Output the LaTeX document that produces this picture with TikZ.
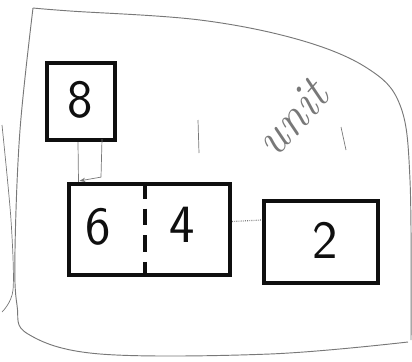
\documentclass[tikz,border=0pt]{standalone}
\usepackage{tikz}
\usetikzlibrary{arrows.meta,calc,positioning}
\definecolor{skink}{RGB}{15,15,15}
\definecolor{skpencil}{RGB}{120,120,120}

\begin{document}
\begin{tikzpicture}[x=0.03cm,y=-0.03cm,
    sketchbox/.style={draw=skink,line width=3.6pt,inner sep=0pt},
    digit/.style={font=\fontsize{46}{50}\selectfont\sffamily,text=skink},
    pencil/.style={draw=skpencil,line width=0.6pt}]
    \useasboundingbox (0,0) rectangle (412,362);
    % page outline
    \draw[pencil,line width=0.8pt] plot[smooth,tension=0.6] coordinates
      {(33,8) (70,11) (200,20) (300,40) (367,68) (400,105) (410,180) (411,340)};
    \draw[pencil,line width=0.8pt] plot[smooth,tension=0.6] coordinates
      {(408,342) (270,354) (100,354) (28,334) (17,305) (15,250) (20,130) (33,8)};
    \draw[pencil] plot[smooth] coordinates {(2,125) (11,220) (13,290) (2,312)};
    % boxes
    \node[sketchbox,minimum width=2.04cm,minimum height=2.31cm] (box8) at (81,101.5) {};
    \node[sketchbox,minimum width=4.83cm,minimum height=2.73cm] (box64) at (149.5,229.5) {};
    \node[sketchbox,minimum width=3.42cm,minimum height=2.46cm] (box2) at (321,242) {};
    \draw[skink,line width=2.6pt,dash pattern=on 0.5cm off 0.3cm]
      ($(box64.north)+(-4.5,0)$) -- ($(box64.south)+(-4.5,0)$);
    \node[digit] (d8) at (80,100) {8};
    \node[digit] (d6) at (98,227) {6};
    \node[digit] (d4) at (182,225) {4};
    \node[digit] (d2) at (325,240) {2};
    % links
    \draw[pencil] ($(box8.south)+(-3,0)$) -- ($(box64.north)+(-71,0)$);
    \draw[pencil,-{Stealth[length=5pt]}] ($(box8.south)+(21,-3)$) -- ++(-1,38)
      -- ($(box64.north)+(-70,-1)$);
    \draw[pencil,densely dotted,line width=1pt] ($(box64.east)+(0,-8)$) -- ($(box2.west)+(0,-22)$);
    % note
    \node[rotate=48,font=\fontsize{42}{46}\selectfont\itshape,text=skpencil] (unit) at (292,118) {unit};
    \draw[pencil] (198,120) -- (199,153);
    \draw[pencil] (341,127) -- (346,150);
\end{tikzpicture}
\end{document}
